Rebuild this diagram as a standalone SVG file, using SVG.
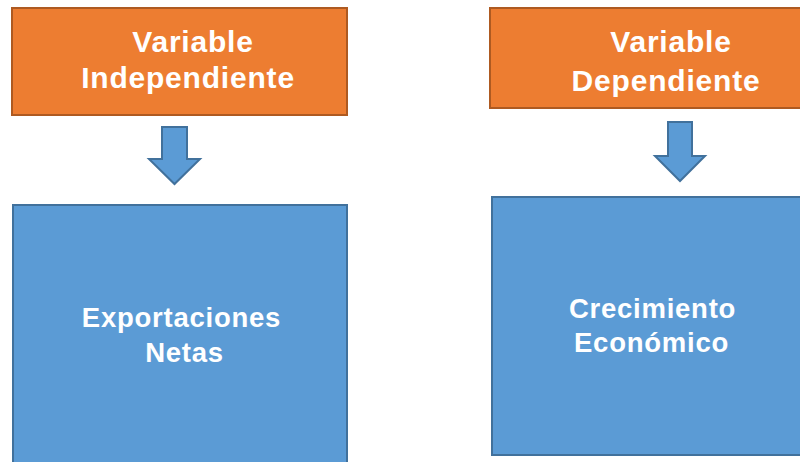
<svg xmlns="http://www.w3.org/2000/svg" width="800" height="462" viewBox="0 0 800 462">
<style>
.or{fill:#ED7D31;stroke:#AE5A21;stroke-width:2}
.bl{fill:#5B9BD5;stroke:#41719C;stroke-width:2}
.t{font-family:"Liberation Sans",Arial,sans-serif;font-weight:bold;fill:#fff;text-anchor:middle}
.h{font-size:30px;letter-spacing:0.8px}
.b{font-size:27.5px;letter-spacing:0.75px}
</style>
<rect width="800" height="462" fill="#fff"/>
<g id="var-indep">
<rect class="or" x="12" y="8" width="335" height="107"/>
<text class="t h" x="193" y="52">Variable</text>
<text class="t h" x="188" y="88">Independiente</text>
</g>
<g id="var-dep">
<rect class="or" x="490" y="8" width="340" height="100"/>
<text class="t h" x="671" y="52">Variable</text>
<text class="t h" x="666" y="91">Dependiente</text>
</g>
<g id="connectors">
<polygon class="bl" points="162,127 187,127 187,159 200,159 174.5,184 149,159 162,159"/>
<polygon class="bl" points="668,122 692,122 692,156 705,156 680,181 655,156 668,156"/>
</g>
<g id="exportaciones">
<rect class="bl" x="13" y="205" width="334" height="270"/>
<text class="t b" x="181.5" y="327">Exportaciones</text>
<text class="t b" x="184.5" y="362">Netas</text>
</g>
<g id="crecimiento">
<rect class="bl" x="492" y="197" width="330" height="258"/>
<text class="t b" x="652.5" y="318">Crecimiento</text>
<text class="t b" x="651.5" y="352">Económico</text>
</g>
</svg>
